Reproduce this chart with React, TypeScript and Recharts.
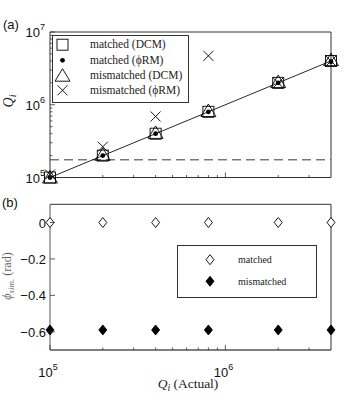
import { Legend, ReferenceLine, Scatter, ScatterChart, XAxis, YAxis } from "recharts";

// Q_i actual values (x) shared by both panels
const qActual = [1e5, 2e5, 4e5, 8e5, 2e6, 4e6];
// panel (a): measured Q_i
const matchedDcm = [1e5, 2e5, 4e5, 8e5, 2e6, 4e6];
const matchedPhiRm = [1e5, 2e5, 4e5, 8e5, 2e6, 3.9e6];
const mismatchedDcm = [1e5, 2.05e5, 4.1e5, 8.2e5, 2.05e6, 4.1e6];
const mismatchedPhiRm = [1.1e5, 2.65e5, 6.9e5, 4.7e6, 2e6, 4e6];
const fitQ = [1e5, 4e6];
const thresholdQ = 1.75e5;
// panel (b): phi_sim in rad
const phiMatched = [0, 0, 0, 0, 0, 0];
const phiMismatched = [-0.59, -0.59, -0.59, -0.59, -0.59, -0.59];

const xTicks = [1e5, 2e5, 3e5, 4e5, 5e5, 6e5, 7e5, 8e5, 9e5, 1e6, 2e6, 3e6];
const qTicks = [
  1e5, 2e5, 3e5, 4e5, 5e5, 6e5, 7e5, 8e5, 9e5,
  1e6, 2e6, 3e6, 4e6, 5e6, 6e6, 7e6, 8e6, 9e6, 1e7,
];
const phiTicks = [0, -0.2, -0.4, -0.6];

const topLegend = ["matched (DCM)", "matched (\u03d5RM)", "mismatched (DCM)", "mismatched (\u03d5RM)"];
const bottomLegend = ["matched", "mismatched"];

const AXIS = "#333";
const SANS = "'Liberation Sans', Arial, sans-serif";
const SERIF = "'Liberation Serif', 'Times New Roman', serif";

const pts = (xs: number[], ys: number[]) => xs.map((x, i) => ({ x, y: ys[i] }));

const isDecade = (v: number) => {
  const e = Math.log10(v);
  return Math.abs(e - Math.round(e)) < 1e-6;
};

// ---- markers ----
const Square = ({ cx, cy }: any) => (
  <rect x={cx - 5.5} y={cy - 5.5} width={11} height={11} fill="none" stroke="#000" strokeWidth={0.9} />
);
const Dot = ({ cx, cy }: any) => <circle cx={cx} cy={cy} r={2.4} fill="#000" />;
const Triangle = ({ cx, cy }: any) => (
  <polygon
    points={`${cx},${cy - 7} ${cx - 7.5},${cy + 5.5} ${cx + 7.5},${cy + 5.5}`}
    fill="none"
    stroke="#000"
    strokeWidth={0.9}
  />
);
const Cross = ({ cx, cy }: any) => (
  <g stroke="#000" strokeWidth={0.9}>
    <line x1={cx - 5} y1={cy - 5} x2={cx + 5} y2={cy + 5} />
    <line x1={cx - 5} y1={cy + 5} x2={cx + 5} y2={cy - 5} />
  </g>
);
const Diamond = ({ cx, cy, filled }: any) => (
  <polygon
    points={`${cx},${cy - 5} ${cx + 4},${cy} ${cx},${cy + 5} ${cx - 4},${cy}`}
    fill={filled ? "#000" : "#fff"}
    stroke="#000"
    strokeWidth={0.9}
  />
);

// ---- ticks (drawn inward, MATLAB style) ----
const pow10 = (v: number, x: number, y: number, anchor: "middle" | "end") => (
  <text x={x} y={y} textAnchor={anchor} fontFamily={SANS} fontSize={13} fill="#111">
    10
    <tspan dy={-7} fontSize={9}>
      {Math.round(Math.log10(v))}
    </tspan>
  </text>
);

const xTick = (side: "top" | "bottom", labelled: boolean) => (p: any) => {
  const { x, y, payload } = p;
  const v = payload.value;
  const major = isDecade(v);
  const len = major ? 5 : 2.5;
  const d = side === "bottom" ? -1 : 1;
  return (
    <g>
      <line x1={x} x2={x} y1={y} y2={y + d * len} stroke={AXIS} strokeWidth={0.8} />
      {labelled && major && pow10(v, x - 2, y + 27, "middle")}
    </g>
  );
};

const yLogTick = (side: "left" | "right", labelled: boolean) => (p: any) => {
  const { x, y, payload } = p;
  const v = payload.value;
  const major = isDecade(v);
  const len = major ? 5 : 2.5;
  const d = side === "left" ? 1 : -1;
  return (
    <g>
      <line x1={x} x2={x + d * len} y1={y} y2={y} stroke={AXIS} strokeWidth={0.8} />
      {labelled && major && pow10(v, x - 5, y + 5, "end")}
    </g>
  );
};

const yLinTick = (side: "left" | "right", labelled: boolean) => (p: any) => {
  const { x, y, payload } = p;
  const v = payload.value as number;
  const d = side === "left" ? 1 : -1;
  const label = v === 0 ? "0" : `\u2212${Math.abs(v).toFixed(1)}`;
  return (
    <g>
      <line x1={x} x2={x + d * 5} y1={y} y2={y} stroke={AXIS} strokeWidth={0.8} />
      {labelled && (
        <text x={x - 4} y={y + 5} textAnchor="end" fontFamily={SANS} fontSize={13} fill="#111">
          {label}
        </text>
      )}
    </g>
  );
};

// ---- legends ----
function TopLegend() {
  const symbols = [Square, Dot, Triangle, Cross];
  const rows = [9.7, 25.3, 40.7, 55.3];
  return (
    <svg width={137} height={68} style={{ display: "block" }}>
      <rect x={0.5} y={0.5} width={136} height={67} fill="#fff" stroke={AXIS} strokeWidth={1} />
      {topLegend.map((name, i) => {
        const Sym = symbols[i];
        return (
          <g key={name}>
            <Sym cx={10.5} cy={rows[i]} />
            <text x={38} y={rows[i] + 3.5} fontFamily={SERIF} fontSize={11.5} fill="#222">
              {name}
            </text>
          </g>
        );
      })}
    </svg>
  );
}

function BottomLegend() {
  const rows = [14.7, 36.3];
  return (
    <svg width={140} height={53} style={{ display: "block" }}>
      <rect x={0.5} y={0.5} width={139} height={52} fill="#fff" stroke={AXIS} strokeWidth={1} />
      {bottomLegend.map((name, i) => (
        <g key={name}>
          <Diamond cx={33} cy={rows[i]} filled={i === 1} />
          <text x={61} y={rows[i] + 3.5} fontFamily={SERIF} fontSize={10} fill="#222">
            {name}
          </text>
        </g>
      ))}
    </svg>
  );
}

const hiddenLine = () => <g />;

export default function App() {
  const xDomain = [1e5, 4e6];
  return (
    <div style={{ position: "absolute", left: 0, top: 0, width: 346, height: 396, background: "#fff" }}>
      <div style={{ position: "absolute", left: 3, top: 17, fontFamily: SANS, fontSize: 13, color: "#111" }}>(a)</div>
      <div style={{ position: "absolute", left: 2, top: 195, fontFamily: SANS, fontSize: 13, color: "#111" }}>(b)</div>

      {/* panel (a) */}
      <div style={{ position: "absolute", left: 0, top: 0 }}>
        <ScatterChart width={346} height={200} margin={{ top: 31, right: 14, bottom: 21.5, left: 49 }}>
          <XAxis
            xAxisId="b"
            dataKey="x"
            type="number"
            scale="log"
            domain={xDomain}
            ticks={xTicks}
            interval={0}
            height={1}
            tickSize={0}
            tickMargin={0}
            tickLine={false}
            axisLine={{ stroke: AXIS, strokeWidth: 1 }}
            tick={xTick("bottom", false)}
          />
          <XAxis
            xAxisId="t"
            orientation="top"
            type="number"
            scale="log"
            domain={xDomain}
            ticks={xTicks}
            interval={0}
            height={1}
            tickSize={0}
            tickMargin={0}
            tickLine={false}
            axisLine={{ stroke: AXIS, strokeWidth: 1 }}
            tick={xTick("top", false)}
          />
          <YAxis
            yAxisId="l"
            dataKey="y"
            type="number"
            scale="log"
            domain={[1e5, 1e7]}
            ticks={qTicks}
            interval={0}
            width={1}
            tickSize={0}
            tickMargin={0}
            tickLine={false}
            axisLine={{ stroke: AXIS, strokeWidth: 1 }}
            tick={yLogTick("left", true)}
            label={{
              content: () => (
                <text
                  transform="translate(13,101) rotate(-90)"
                  textAnchor="middle"
                  fontFamily={SERIF}
                  fontStyle="italic"
                  fontSize={14}
                  fill="#222"
                >
                  Q<tspan fontSize={10} dy={3}>i</tspan>
                </text>
              ),
            }}
          />
          <YAxis
            yAxisId="r"
            orientation="right"
            type="number"
            scale="log"
            domain={[1e5, 1e7]}
            ticks={qTicks}
            interval={0}
            width={1}
            tickSize={0}
            tickMargin={0}
            tickLine={false}
            axisLine={{ stroke: AXIS, strokeWidth: 1 }}
            tick={yLogTick("right", false)}
          />
          <ReferenceLine
            xAxisId="b"
            yAxisId="l"
            y={thresholdQ}
            stroke="#222"
            strokeWidth={0.9}
            strokeDasharray="9 5"
          />
          <Scatter
            xAxisId="b"
            yAxisId="l"
            data={pts(fitQ, fitQ)}
            line={{ stroke: "#111", strokeWidth: 0.9 }}
            shape={hiddenLine}
            isAnimationActive={false}
          />
          <Scatter xAxisId="b" yAxisId="l" data={pts(qActual, matchedDcm)} shape={Square} isAnimationActive={false} />
          <Scatter xAxisId="b" yAxisId="l" data={pts(qActual, mismatchedDcm)} shape={Triangle} isAnimationActive={false} />
          <Scatter xAxisId="b" yAxisId="l" data={pts(qActual, mismatchedPhiRm)} shape={Cross} isAnimationActive={false} />
          <Scatter xAxisId="b" yAxisId="l" data={pts(qActual, matchedPhiRm)} shape={Dot} isAnimationActive={false} />
          <Legend
            layout="horizontal"
            verticalAlign="middle"
            align="center"
            content={() => <TopLegend />}
            wrapperStyle={{ left: 52, top: 35, width: 137, height: 68 }}
          />
        </ScatterChart>
      </div>

      {/* panel (b) */}
      <div style={{ position: "absolute", left: 0, top: 190 }}>
        <ScatterChart width={346} height={206} margin={{ top: 13.3, right: 14, bottom: 45, left: 49 }}>
          <XAxis
            xAxisId="b"
            dataKey="x"
            type="number"
            scale="log"
            domain={xDomain}
            ticks={xTicks}
            interval={0}
            height={1}
            tickSize={0}
            tickMargin={0}
            tickLine={false}
            axisLine={{ stroke: "#000", strokeWidth: 1 }}
            tick={xTick("bottom", true)}
            label={{
              content: () => (
                <text x={188} y={198} textAnchor="middle" fontFamily={SERIF} fontSize={13.5} fill="#222">
                  <tspan fontStyle="italic">Q</tspan>
                  <tspan fontStyle="italic" fontSize={9.5} dy={3}>i</tspan>
                  <tspan dy={-3}> (Actual)</tspan>
                </text>
              ),
            }}
          />
          <XAxis
            xAxisId="t"
            orientation="top"
            type="number"
            scale="log"
            domain={xDomain}
            ticks={xTicks}
            interval={0}
            height={1}
            tickSize={0}
            tickMargin={0}
            tickLine={false}
            axisLine={{ stroke: AXIS, strokeWidth: 1 }}
            tick={xTick("top", false)}
          />
          <YAxis
            yAxisId="l"
            dataKey="y"
            type="number"
            domain={[-0.7, 0.1]}
            ticks={phiTicks}
            interval={0}
            width={1}
            tickSize={0}
            tickMargin={0}
            tickLine={false}
            axisLine={{ stroke: "#555", strokeWidth: 1 }}
            tick={yLinTick("left", true)}
            label={{
              content: () => (
                <text
                  transform="translate(11,86) rotate(-90)"
                  textAnchor="middle"
                  fontFamily={SERIF}
                  fontSize={12}
                  fill="#666"
                >
                  <tspan fontStyle="italic">{"\u03d5"}</tspan>
                  <tspan fontStyle="italic" fontSize={9} dy={3}>sim.</tspan>
                  <tspan dy={-3}> (rad)</tspan>
                </text>
              ),
            }}
          />
          <YAxis
            yAxisId="r"
            orientation="right"
            type="number"
            domain={[-0.7, 0.1]}
            ticks={phiTicks}
            interval={0}
            width={1}
            tickSize={0}
            tickMargin={0}
            tickLine={false}
            axisLine={{ stroke: AXIS, strokeWidth: 1 }}
            tick={yLinTick("right", false)}
          />
          <Scatter xAxisId="b" yAxisId="l" data={pts(qActual, phiMatched)} shape={(p: any) => <Diamond {...p} />} isAnimationActive={false} />
          <Scatter xAxisId="b" yAxisId="l" data={pts(qActual, phiMismatched)} shape={(p: any) => <Diamond {...p} filled />} isAnimationActive={false} />
          <Legend
            layout="horizontal"
            verticalAlign="middle"
            align="center"
            content={() => <BottomLegend />}
            wrapperStyle={{ left: 177, top: 55, width: 140, height: 53 }}
          />
        </ScatterChart>
      </div>
    </div>
  );
}
